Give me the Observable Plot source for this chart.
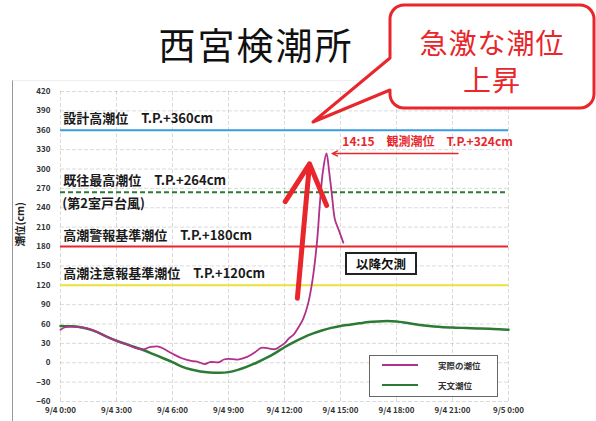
<!DOCTYPE html>
<html><head><meta charset="utf-8">
<script src="https://cdn.jsdelivr.net/npm/d3@7"></script>
<script src="https://cdn.jsdelivr.net/npm/@observablehq/plot@0.6"></script>
<style>
body{margin:0;background:#fff;font-family:"Noto Sans CJK JP","Noto Sans",sans-serif;}
#wrap{position:relative;width:596px;height:421px;overflow:hidden;background:#fff;}
#frame{position:absolute;left:12px;top:80px;width:600px;height:360px;border-left:1px solid #999;border-top:1px solid #eee;}
#chart{position:absolute;left:0;top:0;}
#title{position:absolute;left:0;width:512px;top:24px;text-align:center;font-size:37px;line-height:40px;letter-spacing:2px;color:#111;}
#callout{position:absolute;left:0;top:0;}
.ct{position:absolute;left:390px;width:204px;text-align:center;font-size:28px;line-height:30px;color:#e8262b;letter-spacing:1px;}
#legend{position:absolute;left:369px;top:355px;width:127px;height:40px;border:1px solid #666;background:#fff;font-size:8.5px;font-weight:bold;color:#333;}
#legend .row{position:absolute;left:12px;height:12px;display:flex;align-items:center;}
#legend .sw{width:36px;height:0;margin-right:20px;}
#missing{position:absolute;left:345px;top:252px;width:68px;height:19px;border:2px solid #222;background:#fff;font-size:12.5px;font-weight:bold;line-height:19px;text-align:center;color:#111;}
</style></head>
<body>
<div id="wrap">
  <div id="frame"></div>
  <div id="chart"></div>
  <div id="title">西宮検潮所</div>
  <svg id="callout" width="596" height="130"><path d="M404,5 L580,5 A14,14 0 0 1 594,19 L594,94 A14,14 0 0 1 580,108 L404,108 A14,14 0 0 1 390,94 L390,90 L313,122 L390,58 L390,19 A14,14 0 0 1 404,5 Z" fill="#fff" stroke="#e8262b" stroke-width="3" stroke-linejoin="round"/></svg>
  <div class="ct" style="top:27px">急激な潮位</div>
  <div class="ct" style="top:64px">上昇</div>
  <div id="missing">以降欠測</div>
  <div id="legend">
    <div class="row" style="top:3px"><div class="sw" style="border-top:2px solid #b0308a"></div><span>実際の潮位</span></div>
    <div class="row" style="top:23px"><div class="sw" style="border-top:2.5px solid #2d7a35"></div><span>天文潮位</span></div>
  </div>
</div>
<script>
// Tick labels
const tickHours = [0, 3, 6, 9, 12, 15, 18, 21, 24];
const tickLabels = ["9/4 0:00", "9/4 3:00", "9/4 6:00", "9/4 9:00", "9/4 12:00", "9/4 15:00", "9/4 18:00", "9/4 21:00", "9/5 0:00"];
const yTicks = [-60, -30, 0, 30, 60, 90, 120, 150, 180, 210, 240, 270, 300, 330, 360, 390, 420];

// 天文潮位 (astronomical tide)
const astroHours = [0,0.5,1,1.5,2,2.5,3,3.5,4,4.5,5,5.5,6,6.5,7,7.5,8,8.5,9,9.5,10,10.5,11,11.5,12,12.5,13,13.5,14,14.5,15,15.5,16,16.5,17,17.5,18,18.5,19,19.5,20,20.5,21,21.5,22,22.5,23,23.5,24];
const astroValues = [57,56.5,55.5,52,47,40,34,29,24,19,13,7,1,-6,-10.5,-13.5,-15,-15.5,-14.5,-11,-6,0,7,15,24,32,39,45,50,54,57,59,61,63,64,64.5,64,62,59.5,57.5,56,55,54.5,54,53.5,53,52.5,52,51];

// 実際の潮位 (observed tide)
const obsHours = [0,0.25,0.5,1,1.5,2,2.5,3,3.5,4,4.25,4.5,4.75,5,5.25,5.5,6,6.5,7,7.25,7.5,7.75,8,8.5,8.75,9,9.5,10,10.25,10.5,10.75,11,11.5,11.75,12,12.25,12.5,12.75,13,13.25,13.5,13.75,13.9,14.07,14.25,14.4,14.55,14.7,14.9,15.15];
const obsValues = [51,55,56,55,53,47,40,34,29,23,21,21,24,25,25,22,14,7,3,2,0,-2,1,1,5,6,5,9,13,18,23,23,21,25,30,38,44,55,68,90,128,190,248,299,324,294,257,222,206,186];

// Reference levels
const levelValues = [360, 264, 180, 120];
const levelLabels = ["設計高潮位\u3000T.P.+360cm", "既往最高潮位\u3000T.P.+264cm", "高潮警報基準潮位\u3000T.P.+180cm", "高潮注意報基準潮位\u3000T.P.+120cm"];
const levelLabelY = [378, 282, 196, 137.5];
const subLabel = "(第2室戸台風)";
const peakLabel = "14:15\u3000観測潮位\u3000T.P.+324cm";

const astro = astroHours.map((h, i) => ({h, v: astroValues[i]}));
const obs = obsHours.map((h, i) => ({h, v: obsValues[i]}));
const levelColors = ["#3d9be0", "#2d7a35", "#e8262b", "#ede23c"];
const levels = levelValues.map((v, i) => ({v, label: levelLabels[i], ly: levelLabelY[i], color: levelColors[i]}));

const font = '"Noto Sans CJK JP","Noto Sans",sans-serif';
const chart = Plot.plot({
  width: 596, height: 421,
  marginLeft: 60, marginRight: 88, marginTop: 91, marginBottom: 20,
  style: {fontFamily: font, background: "transparent", color: "#333"},
  x: {domain: [0, 24]},
  y: {domain: [-60, 420]},
  marks: [
    Plot.gridY(yTicks, {stroke: "#999", strokeOpacity: 0.35, strokeDasharray: "4,2"}),
    Plot.gridX(tickHours, {stroke: "#999", strokeOpacity: 0.35, strokeDasharray: "4,2"}),
    Plot.axisY(yTicks, {tickSize: 0, tickPadding: 10, fontSize: 8, fontWeight: "bold", label: null}),
    Plot.text(["潮位(cm)"], {frameAnchor: "left", dx: -40, rotate: -90, text: d => d, fontSize: 10.5, fontWeight: "bold", fill: "#222"}),
    Plot.axisX(tickHours, {tickSize: 0, tickPadding: 6, fontSize: 8, fontWeight: "bold", tickFormat: (d, i) => tickLabels[i], label: null}),
    Plot.ruleY(levels.filter(d => d.v !== 264), {y: "v", stroke: "color", strokeWidth: 2}),
    Plot.ruleY(levels.filter(d => d.v === 264), {y: "v", stroke: "color", strokeWidth: 1.8, strokeDasharray: "5,3"}),
    Plot.text(levels, {x: 0.15, y: "ly", text: "label", textAnchor: "start", fontSize: 13, fontWeight: "bold", fill: "#1a1a1a"}),
    Plot.text([subLabel], {x: 0.1, y: 246, text: d => d, textAnchor: "start", fontSize: 13, fontWeight: "bold", fill: "#1a1a1a"}),
    Plot.line(astro, {x: "h", y: "v", stroke: "#2d7a35", strokeWidth: 2.5, curve: "catmull-rom"}),
    Plot.line(obs, {x: "h", y: "v", stroke: "#b0308a", strokeWidth: 1.8, curve: "catmull-rom"}),
    Plot.arrow([{x1: 21.3, y1: 324, x2: 14.55, y2: 324}], {x1: "x1", y1: "y1", x2: "x2", y2: "y2", stroke: "#e8262b", strokeWidth: 1.3, headLength: 7, headAngle: 50}),
    Plot.text([peakLabel], {x: 15.1, y: 342, text: d => d, textAnchor: "start", fontSize: 12, fontWeight: "bold", fill: "#e8262b"}),
    Plot.arrow([{x1: 12.69, y1: 100, x2: 13.34, y2: 308}], {x1: "x1", y1: "y1", x2: "x2", y2: "y2", stroke: "#e8262b", strokeWidth: 5, headLength: 18, headAngle: 55})
  ]
});
document.getElementById("chart").appendChild(chart);
</script>
</body></html>
